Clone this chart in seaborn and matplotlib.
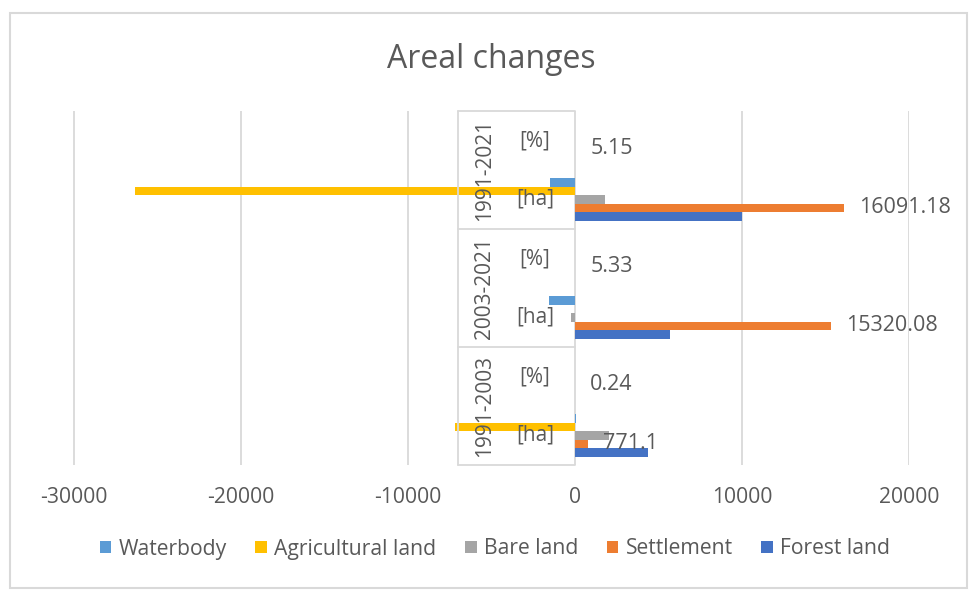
import numpy as np
import pandas as pd
import matplotlib
matplotlib.use("Agg")
import matplotlib.pyplot as plt
import seaborn as sns

# ---------------- data ----------------
periods = ["1991-2021", "2003-2021", "1991-2003"]
units = ["[%]", "[ha]"]
categories = [f"{p} {u}" for p in periods for u in units]   # top -> bottom
series = ["Waterbody", "Agricultural land", "Bare land", "Settlement", "Forest land"]

waterbody = [0, -1455, 0, -1540, 0, 100]
agricultural = [0, -26290, 0, 0, 0, -7140]
bare_land = [0, 1795, 0, -200, 0, 2035]
settlement = [5.15, 16091.18, 5.33, 15320.08, 0.24, 771.1]
forest_land = [0, 9990, 0, 5690, 0, 4390]

colors = ["#5B9BD5", "#FFC000", "#A5A5A5", "#ED7D31", "#4472C4"]
xticks = [-30000, -20000, -10000, 0, 10000, 20000]

values = [waterbody, agricultural, bare_land, settlement, forest_land]
df = pd.DataFrame(
    [(c, s, v[i]) for s, v in zip(series, values) for i, c in enumerate(categories)],
    columns=["category", "series", "value"],
)

# ---------------- style ----------------
sns.set_style("white")
FONT = ["Open Sans", "DejaVu Sans"]
plt.rcParams["font.family"] = FONT
TXT = "#595959"
GRID = "#D9D9D9"

W, H, DPI = 970, 593, 100
fig = plt.figure(figsize=(W / DPI, H / DPI), dpi=DPI)
ax_l, ax_r, ax_t, ax_b = 73.5, 909, 111, 465
ax = fig.add_axes([ax_l / W, 1 - ax_b / H, (ax_r - ax_l) / W, (ax_b - ax_t) / H])

sns.barplot(
    data=df, y="category", x="value", hue="series",
    order=categories, hue_order=series, palette=colors,
    orient="h", width=0.72, linewidth=0, saturation=1,
    legend=True, ax=ax, zorder=3,
)

xmin, xmax = xticks[0], xticks[-1]
ax.set_xlim(xmin, xmax)
ax.set_ylim(len(categories) - 0.5, -0.5)
ax.set_xticks(xticks)
ax.set_xticklabels([str(t) for t in xticks], color=TXT, fontsize=15.2)
ax.tick_params(axis="x", length=0, pad=16)
ax.set_yticks([])
ax.set_xlabel("")
ax.set_ylabel("")
for sp in ax.spines.values():
    sp.set_visible(False)
ax.xaxis.grid(True, color=GRID, linewidth=1.3, zorder=0)
ax.set_axisbelow(True)

# data labels on Settlement
cont = ax.containers[series.index("Settlement")]
texts = ax.bar_label(cont, labels=[str(v) for v in settlement], padding=11,
                     color=TXT, fontsize=15.5)
for t in texts:
    t.set_va("center")
    t.set_y(t.get_position()[1])

# category box (multi-level axis)
px = (xmax - xmin) / (ax_r - ax_l)   # data units per pixel
box_left = -117 * px
ax.plot([box_left, box_left], [-0.5, len(categories) - 0.5], color=GRID, lw=1.3,
        zorder=4, clip_on=False)
for b in [-0.5, 1.5, 3.5, 5.5]:
    ax.plot([box_left, 0], [b, b], color=GRID, lw=1.3, zorder=4, clip_on=False)

for gi, p in enumerate(periods):
    ax.annotate(p, xy=(0, 2 * gi + 0.5), xytext=(-90, 0), textcoords="offset pixels",
                rotation=90, ha="center", va="center", color=TXT, fontsize=15,
                zorder=6)
for i, c in enumerate(categories):
    u = c.split(" ")[1]
    ax.annotate(u, xy=(0, i), xytext=(-40, 0), textcoords="offset pixels",
                ha="center", va="center", color=TXT, fontsize=15, zorder=6)

# title
fig.text(491 / W, 1 - 60 / H, "Areal changes", ha="center", va="center",
         color=TXT, fontsize=23)

# legend
handles, labels = ax.get_legend_handles_labels()
ax.get_legend().remove()
fig.legend(handles, labels, loc="center", bbox_to_anchor=(495 / W, 1 - 549 / H),
           ncol=5, frameon=False, fontsize=15.2, handlelength=0.55, handleheight=0.55,
           handletextpad=0.35, columnspacing=1.35, labelcolor=TXT)

# chart border
fig.patches.append(plt.Rectangle((10 / W, 1 - 588 / H), 957 / W, 575 / H,
                                 transform=fig.transFigure, fill=False,
                                 edgecolor=GRID, linewidth=1.5))

fig.savefig("out.png", dpi=DPI, facecolor="white")
